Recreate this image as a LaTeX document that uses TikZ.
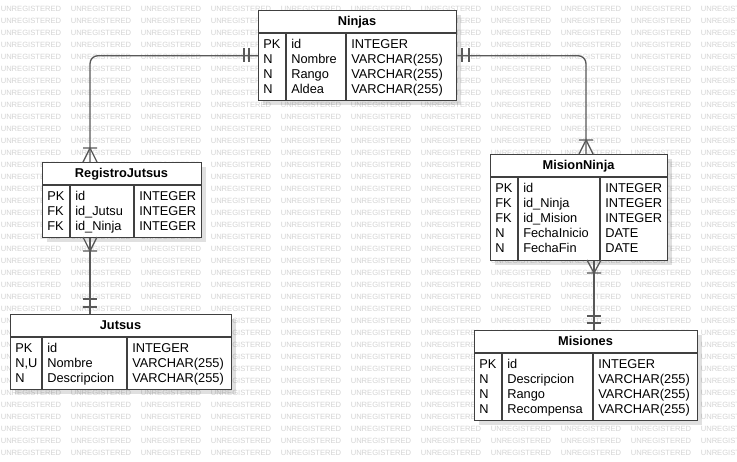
\documentclass[tikz,border=0pt]{standalone}
\usepackage{fontspec}
\setmainfont{Liberation Sans}
\usepackage{tikz}
\usetikzlibrary{shadows}

\begin{document}
\begin{tikzpicture}
	[x=0.75pt, y=-0.75pt,
	entity/.style={draw=black!75, fill=white, line width=1pt, rectangle,
		inner sep=0pt, anchor=north west,
		drop shadow={shadow xshift=3.5pt, shadow yshift=-3.5pt, opacity=0.12, fill=black}},
	tabrule/.style={draw=black!75, line width=1pt},
	cell/.style={anchor=base west, inner sep=0pt, font=\fontsize{9.6}{11}\selectfont},
	tablehead/.style={anchor=base, inner sep=0pt, font=\fontsize{9.6}{11}\selectfont\bfseries},
	watermark/.style={anchor=west, inner sep=0pt, text=black!17, font=\fontsize{5.7}{6}\selectfont},
	link/.style={draw=black!65, line width=1pt, rounded corners=6pt},
	cardinal/.style={draw=black!65, line width=1pt}]
	
	\useasboundingbox (0,0) rectangle (737,461);
	\clip (0,0) rectangle (737,461);
	\fill[white] (0,0) rectangle (737,461);
	
	% background text
	\foreach \r in {0,...,37}
		\foreach \c in {0,...,10}
			\node[watermark] (wm-\c-\r) at (0.5+70*\c, 9+12*\r) {UNREGISTERED};
	
	% Ninjas
	\node[entity, minimum width=198*0.75pt, minimum height=90*0.75pt] (ninjas) at (258,10) {};
	\node[tablehead] (ninjas-head) at (357,25.5) {Ninjas};
	\draw[tabrule] (258,33) -- (456,33) (286,33) -- (286,100) (346,33) -- (346,100);
	\foreach \k/\f/\t [count=\i] in {PK/id/INTEGER, N/Nombre/VARCHAR(255),
		N/Rango/VARCHAR(255), N/Aldea/VARCHAR(255)}
	{
		\node[cell] (ninjas-k\i) at (263,33.3+15*\i) {\k};
		\node[cell] (ninjas-f\i) at (291,33.3+15*\i) {\f};
		\node[cell] (ninjas-t\i) at (351,33.3+15*\i) {\t};
	}
	
	% RegistroJutsus
	\node[entity, minimum width=159*0.75pt, minimum height=75*0.75pt] (reg) at (42,162) {};
	\node[tablehead] (reg-head) at (121.5,177.5) {RegistroJutsus};
	\draw[tabrule] (42,185) -- (201,185) (70,185) -- (70,237) (134,185) -- (134,237);
	\foreach \k/\f/\t [count=\i] in {PK/id/INTEGER, FK/id\_Jutsu/INTEGER, FK/id\_Ninja/INTEGER}
	{
		\node[cell] (reg-k\i) at (47,185.3+15*\i) {\k};
		\node[cell] (reg-f\i) at (75,185.3+15*\i) {\f};
		\node[cell] (reg-t\i) at (139,185.3+15*\i) {\t};
	}
	
	% MisionNinja
	\node[entity, minimum width=177*0.75pt, minimum height=106*0.75pt] (mision) at (490,154) {};
	\node[tablehead] (mision-head) at (578.5,169.5) {MisionNinja};
	\draw[tabrule] (490,177) -- (667,177) (518,177) -- (518,260) (600,177) -- (600,260);
	\foreach \k/\f/\t [count=\i] in {PK/id/INTEGER, FK/id\_Ninja/INTEGER, FK/id\_Mision/INTEGER,
		N/FechaInicio/DATE, N/FechaFin/DATE}
	{
		\node[cell] (mision-k\i) at (495,177.3+15*\i) {\k};
		\node[cell] (mision-f\i) at (523,177.3+15*\i) {\f};
		\node[cell] (mision-t\i) at (605,177.3+15*\i) {\t};
	}
	
	% Jutsus
	\node[entity, minimum width=221*0.75pt, minimum height=75*0.75pt] (jutsus) at (10,314) {};
	\node[tablehead] (jutsus-head) at (120.5,329.5) {Jutsus};
	\draw[tabrule] (10,337) -- (231,337) (42,337) -- (42,389) (127,337) -- (127,389);
	\foreach \k/\f/\t [count=\i] in {PK/id/INTEGER, N{,}U/Nombre/VARCHAR(255),
		N/Descripcion/VARCHAR(255)}
	{
		\node[cell] (jutsus-k\i) at (15,337.3+15*\i) {\k};
		\node[cell] (jutsus-f\i) at (47,337.3+15*\i) {\f};
		\node[cell] (jutsus-t\i) at (132,337.3+15*\i) {\t};
	}
	
	% Misiones
	\node[entity, minimum width=223*0.75pt, minimum height=90*0.75pt] (misiones) at (474,330) {};
	\node[tablehead] (misiones-head) at (585.5,345.5) {Misiones};
	\draw[tabrule] (474,353) -- (697,353) (502,353) -- (502,420) (593,353) -- (593,420);
	\foreach \k/\f/\t [count=\i] in {PK/id/INTEGER, N/Descripcion/VARCHAR(255),
		N/Rango/VARCHAR(255), N/Recompensa/VARCHAR(255)}
	{
		\node[cell] (misiones-k\i) at (479,353.3+15*\i) {\k};
		\node[cell] (misiones-f\i) at (507,353.3+15*\i) {\f};
		\node[cell] (misiones-t\i) at (598,353.3+15*\i) {\t};
	}
	
	% relations
	\draw[link] (ninjas.west) -| (90,0 |- reg.north);
	\draw[link] (ninjas.east) -| (586,0 |- mision.north);
	\draw[link] (90,0 |- reg.south) -- (90,0 |- jutsus.north);
	\draw[link] (594,0 |- mision.south) -- (594,0 |- misiones.north);
	
	\draw[cardinal] (244,48) -- (244,62) (249,48) -- (249,62);
	\draw[cardinal] (83,162) -- (90,148) -- (97,162) (83,148) -- (97,148);
	\draw[cardinal] (462,48) -- (462,62) (469,48) -- (469,62);
	\draw[cardinal] (579,154) -- (586,140) -- (593,154) (579,140) -- (593,140);
	\draw[cardinal] (83,237) -- (90,251) -- (97,237) (83,251) -- (97,251);
	\draw[cardinal] (83,299) -- (97,299) (83,307) -- (97,307);
	\draw[cardinal] (587,260) -- (594,273) -- (601,260) (587,273) -- (601,273);
	\draw[cardinal] (587,316) -- (601,316) (587,323) -- (601,323);
	\end{tikzpicture}
\end{document}
